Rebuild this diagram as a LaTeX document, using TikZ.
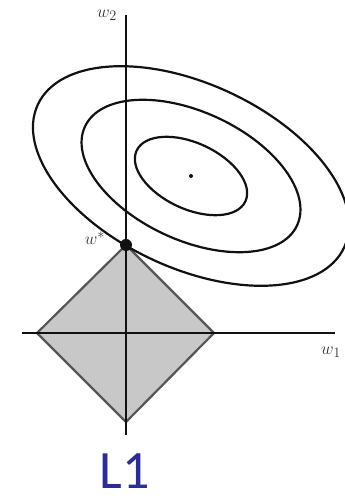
\documentclass[tikz,border=0pt]{standalone}
\usepackage{fontspec}
\newfontfamily\labelfont{Carlito}
\usepackage{tikz}
\definecolor{tinta}{HTML}{111111}
\definecolor{bordegris}{HTML}{555555}
\definecolor{rellenogris}{HTML}{C8C8C8}
\definecolor{azulosc}{HTML}{2B2B9C}
\tikzset{
  axis/.style={draw=tinta,line width=2.6pt},
  contour/.style={draw=tinta,line width=2.2pt},
  ballone/.style={draw=bordegris,fill=rellenogris,line width=2.2pt,line join=miter},
  optdot/.style={circle,fill=tinta,inner sep=0pt,minimum size=12pt},
  centerdot/.style={circle,fill=tinta,inner sep=0pt,minimum size=4pt},
  axislabel/.style={font=\fontsize{19}{19}\selectfont,text=tinta!85,inner sep=1pt},
  normname/.style={font=\labelfont\fontsize{54}{54}\selectfont,text=azulosc,inner sep=0pt}
}
\begin{document}
\begin{tikzpicture}[x=1pt,y=1pt]
\useasboundingbox (0,0) rectangle (345,503);

% L1 ball
\draw[ballone] (37,170) -- (126,258) -- (214,170) -- (126,81) -- cycle;

% axes
\coordinate (left) at (22,170);
\coordinate (right) at (335,170);
\coordinate (bottom) at (126,68);
\coordinate (top) at (126,488);
\draw[axis] (left) -- (right);
\draw[axis] (bottom) -- (top);

% level sets of the loss
\node[centerdot] (wmin) at (191,327) {};
\draw[contour,rotate around={-25:(wmin)}] (wmin) ellipse (60 and 33);
\draw[contour,rotate around={-25:(wmin)}] (wmin) ellipse (117 and 64);
\draw[contour,rotate around={-25:(wmin)}] (wmin) ellipse (169 and 92);

\node[optdot] (wstar) at (126,258) {};

\node[axislabel] (wstarlab) at (95,265) {$w^{*}$};
\node[axislabel] (wtwo) at (107,488) {$w_2$};
\node[axislabel,anchor=west] (wone) at (320,151) {$w_1$};
\node[normname,anchor=base] (lname) at (125,14) {L1};
\end{tikzpicture}
\end{document}
